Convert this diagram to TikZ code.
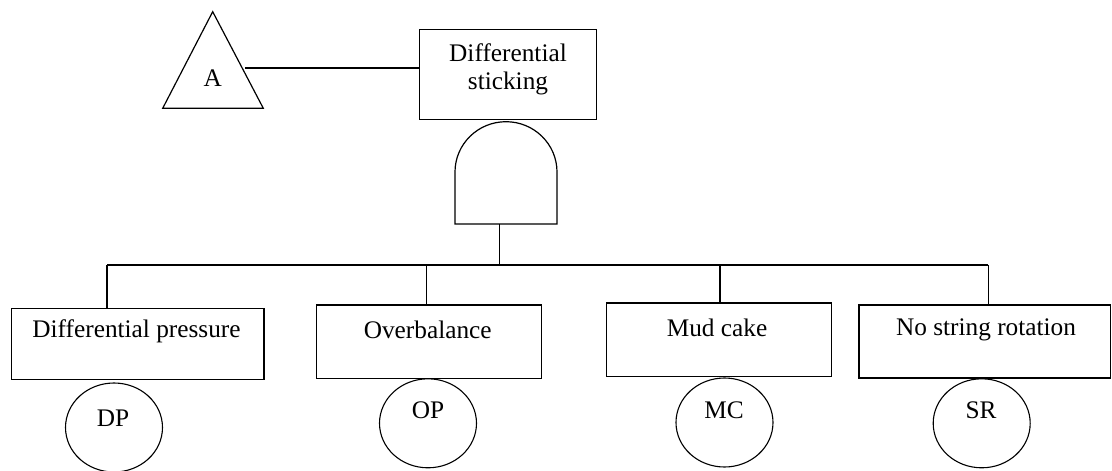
\documentclass[tikz,border=0pt]{standalone}
\usepackage{fontspec}
\setmainfont{Liberation Serif}
\usetikzlibrary{shapes.geometric,calc}
\begin{document}
\begin{tikzpicture}[x=1pt,y=-1pt,
  ln/.style={line width=1.2pt,black},
  evbox/.style={draw,line width=1.2pt,rectangle,inner sep=0pt,anchor=north west},
  basic/.style={draw,line width=1.1pt,ellipse,minimum width=97pt,minimum height=89pt,inner sep=0pt},
  lbl/.style={font=\fontsize{25.3pt}{28pt}\selectfont,inner sep=0pt,align=center}]
\useasboundingbox (0,0) rectangle (1112,471);
% transfer triangle
\coordinate (tapex) at (212.7,11.7);
\coordinate (tbl) at (162.7,108.3);
\coordinate (tbr) at (263.3,108.3);
\draw[ln,line join=miter] (tapex) -- (tbr) -- (tbl) -- cycle;
\node[lbl] (A) at (212.7,78) {A};
\coordinate (tA) at (245,68);
% top event
\node[evbox,minimum width=176.7pt,minimum height=90pt] (top) at (419,29) {};
\node[lbl] (toplbl) at (508,69) {Differential\\sticking};
\draw[ln] (tA) -- (tA -| top.west);
% AND gate
\draw[ln] (455,224) -- (455,172) arc[start angle=180,end angle=0,x radius=51pt,y radius=50.3pt] -- (557,224) -- cycle;
\coordinate (gout) at (499.3,224);
\coordinate (busc) at (499.3,265);
\coordinate (bus1) at (107,265);
\coordinate (bus2) at (426.7,265);
\coordinate (bus3) at (720,265);
\coordinate (bus4) at (988.3,265);
\draw[ln] (gout) -- (busc);
\draw[ln] (bus1) -- (bus4);
% basic event boxes
\node[evbox,minimum width=252.6pt,minimum height=71pt] (b1) at (10.7,308) {};
\node[evbox,minimum width=224.7pt,minimum height=73.4pt] (b2) at (316,304.3) {};
\node[evbox,minimum width=224.7pt,minimum height=73.7pt] (b3) at (606,302.3) {};
\node[evbox,minimum width=251.7pt,minimum height=73pt] (b4) at (858.3,304.3) {};
\node[lbl] (l1) at (136.5,331.7) {Differential pressure};
\node[lbl] (l2) at (427.7,330) {Overbalance};
\node[lbl] (l3) at (717,328.3) {Mud cake};
\node[lbl] (l4) at (986,330) {No string rotation};
\draw[ln] (bus1) -- (bus1 |- b1.north);
\draw[ln] (bus2) -- (bus2 |- b2.north);
\draw[ln] (bus3) -- (bus3 |- b3.north);
\draw[ln] (bus4) -- (bus4 |- b4.north);
% basic event circles
\node[basic] (c1) at (114,427.5) {};
\node[basic] (c2) at (428,423.3) {};
\node[basic] (c3) at (724.5,422.5) {};
\node[basic] (c4) at (981.7,423.3) {};
\node[lbl] (t1) at (113,418) {DP};
\node[lbl] (t2) at (428,410) {OP};
\node[lbl] (t3) at (724,410.7) {MC};
\node[lbl] (t4) at (981,410.7) {SR};
\end{tikzpicture}
\end{document}
